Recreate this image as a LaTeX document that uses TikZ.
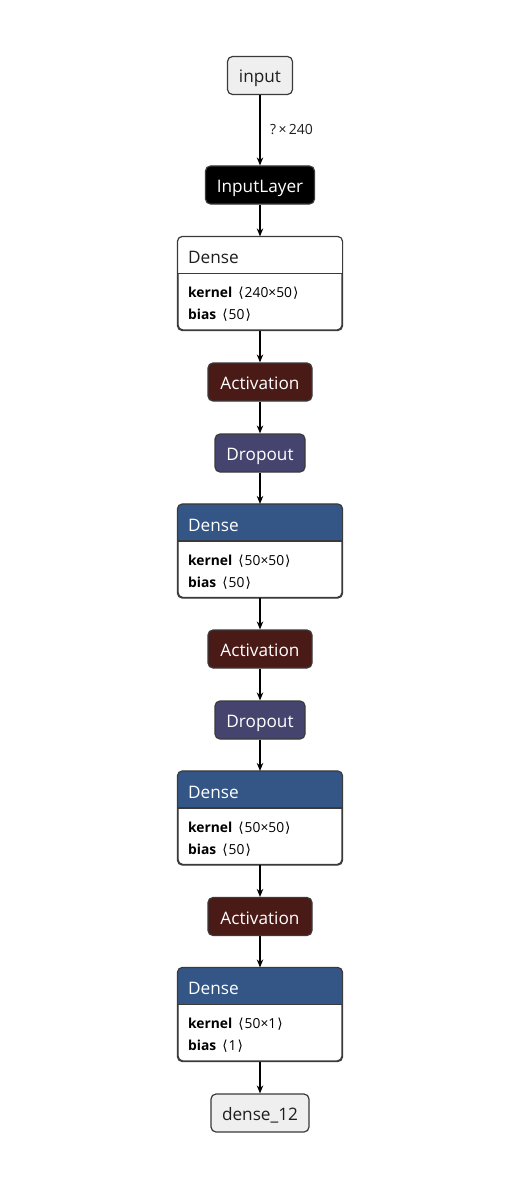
\documentclass[tikz,border=0pt]{standalone}
\usepackage{fontspec}
\setmainfont{Open Sans}
\newfontfamily\dvs{DejaVu Sans}
\usetikzlibrary{arrows.meta,calc}
\definecolor{bordc}{HTML}{3A3A3A}
\definecolor{lightf}{HTML}{EFEFEF}
\definecolor{actf}{HTML}{4A1A16}
\definecolor{dropf}{HTML}{45446F}
\definecolor{headf}{HTML}{335686}
\definecolor{txtc}{HTML}{1E1E1E}
\newcommand{\lb}{\hspace{6pt}{\dvs\char"27E8}\hspace{1pt}}
\newcommand{\rb}{\hspace{1pt}{\dvs\char"27E9}}
\tikzset{
  lay/.style={draw=bordc, line width=1.2pt, rounded corners=5pt, minimum height=38pt, inner sep=0pt, text height=16pt, text depth=1pt, font=\fontsize{17.2}{20}\selectfont},
  lightlay/.style={lay, fill=lightf, text=txtc},
  darklay/.style={lay, text=white},
  densebox/.style={draw=bordc, line width=1.2pt, rounded corners=5pt, minimum width=164pt, minimum height=93pt, inner sep=0pt, fill=white},
  dtitle/.style={anchor=base west, inner sep=0pt, font=\fontsize{17.2}{20}\selectfont},
  attr/.style={anchor=base west, inner sep=0pt, font=\fontsize{13.8}{16}\selectfont, text=black},
  conn/.style={line width=1.3pt, black, -{Stealth[length=8pt,width=6.5pt]}},
}
\newcommand{\densehead}[2]{%
  \begin{scope}
    \clip[rounded corners=5pt] (#1.north west) rectangle (#1.south east);
    \fill[#2] (#1.north west) rectangle ($(#1.north east)+(0,37)$);
  \end{scope}
  \draw[bordc, line width=1.2pt] ($(#1.north west)+(0,37)$) -- ($(#1.north east)+(0,37)$);
  \draw[bordc, line width=1.2pt, rounded corners=5pt] (#1.north west) rectangle (#1.south east);
}
\begin{document}
\begin{tikzpicture}[x=1pt,y=-1pt]
\useasboundingbox (0,0) rectangle (518,1201);
\fill[white] (0,0) rectangle (518,1201);

\node[lightlay, minimum width=65pt] (inp) at (260,75.5) {input};
\node[darklay, fill=black, minimum width=109pt] (il) at (260,185) {InputLayer};

\node[densebox] (d1) at (260,283.5) {};
\densehead{d1}{white}
\node[dtitle, text=txtc] (d1t) at (188,263) {Dense};
\node[attr] (d1k) at (188,297) {\textbf{kernel}\lb240×50\rb};
\node[attr] (d1b) at (188,319) {\textbf{bias}\lb50\rb};

\node[darklay, fill=actf, minimum width=104pt] (a1) at (260,382) {Activation};
\node[darklay, fill=dropf, minimum width=90pt] (p1) at (260,453) {Dropout};

\node[densebox] (d2) at (260,551) {};
\densehead{d2}{headf}
\node[dtitle, text=white] (d2t) at (188,531) {Dense};
\node[attr] (d2k) at (188,565) {\textbf{kernel}\lb50×50\rb};
\node[attr] (d2b) at (188,587) {\textbf{bias}\lb50\rb};

\node[darklay, fill=actf, minimum width=104pt] (a2) at (260,649) {Activation};
\node[darklay, fill=dropf, minimum width=90pt] (p2) at (260,720) {Dropout};

\node[densebox] (d3) at (260,818) {};
\densehead{d3}{headf}
\node[dtitle, text=white] (d3t) at (188,798) {Dense};
\node[attr] (d3k) at (188,832) {\textbf{kernel}\lb50×50\rb};
\node[attr] (d3b) at (188,854) {\textbf{bias}\lb50\rb};

\node[darklay, fill=actf, minimum width=104pt] (a3) at (260,916.5) {Activation};

\node[densebox] (d4) at (260,1014.5) {};
\densehead{d4}{headf}
\node[dtitle, text=white] (d4t) at (188,994) {Dense};
\node[attr] (d4k) at (188,1028) {\textbf{kernel}\lb50×1\rb};
\node[attr] (d4b) at (188,1050) {\textbf{bias}\lb1\rb};

\node[lightlay, minimum width=98pt] (out) at (260,1113) {dense\_12};

\draw[conn] (inp) -- (il);
\node[anchor=base west, inner sep=0pt, font=\fontsize{14}{16}\selectfont, text=txtc] (lab) at (270,135) {?\,×\,240};
\draw[conn] (il) -- (d1.north);
\draw[conn] (d1.south) -- (a1);
\draw[conn] (a1) -- (p1);
\draw[conn] (p1) -- (d2.north);
\draw[conn] (d2.south) -- (a2);
\draw[conn] (a2) -- (p2);
\draw[conn] (p2) -- (d3.north);
\draw[conn] (d3.south) -- (a3);
\draw[conn] (a3) -- (d4.north);
\draw[conn] (d4.south) -- (out);
\end{tikzpicture}
\end{document}
